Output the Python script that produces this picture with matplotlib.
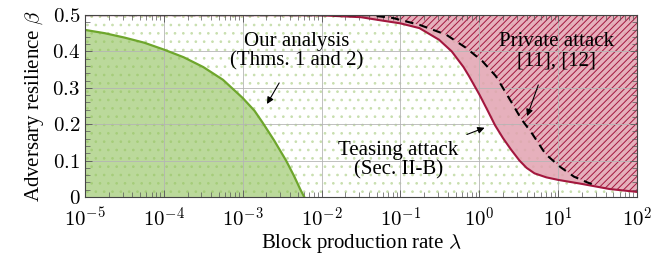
import numpy as np
import matplotlib
matplotlib.use('Agg')
import matplotlib.pyplot as plt
from matplotlib.ticker import LogLocator, MultipleLocator, FixedLocator

plt.rcParams['font.family'] = ['Liberation Serif', 'DejaVu Serif']
plt.rcParams['mathtext.fontset'] = 'cm'
plt.rcParams['hatch.linewidth'] = 0.7

# our analysis (Thms. 1 and 2)
ours_lam = [1e-5, 1.78e-5, 3.16e-5, 5.62e-5, 1e-4, 1.78e-4, 3.16e-4, 5.62e-4, 1e-3,
            1.41e-3, 1.78e-3, 2.51e-3, 3.55e-3, 4.47e-3, 5.4e-3, 6.03e-3]
ours_beta = [0.459, 0.450, 0.438, 0.424, 0.405, 0.384, 0.357, 0.322, 0.272,
             0.237, 0.205, 0.155, 0.100, 0.058, 0.020, 0.0]

# teasing attack (Sec. II-B)
tease_lam = [1e-5, 3.16e-3, 0.01, 0.0316, 0.0537, 0.1, 0.174, 0.309, 0.447, 0.631, 0.741,
             1.0, 1.259, 1.585, 1.995, 2.512, 3.236, 3.981, 5.012, 7.079, 10, 19.95, 44.67, 100]
tease_beta = [0.4998, 0.4995, 0.499, 0.494, 0.486, 0.477, 0.464, 0.432, 0.40, 0.357, 0.332,
              0.282, 0.24, 0.197, 0.162, 0.131, 0.10, 0.08, 0.065, 0.054, 0.047, 0.036, 0.022, 0.014]

# private attack [11], [12]
priv_lam = [1e-5, 0.0398, 0.0794, 0.174, 0.380, 0.676, 1.096, 1.622, 2.188, 2.818, 3.388,
            4.677, 6.918, 10.72, 15.85, 23.44, 31.62]
priv_beta = [0.4998, 0.4995, 0.492, 0.473, 0.446, 0.41, 0.373, 0.332, 0.285, 0.245, 0.215,
             0.174, 0.118, 0.082, 0.056, 0.04, 0.030]

x_ticks = [1e-5, 1e-4, 1e-3, 1e-2, 1e-1, 1e0, 1e1, 1e2]
x_tick_labels = [r'$10^{-5}$', r'$10^{-4}$', r'$10^{-3}$', r'$10^{-2}$', r'$10^{-1}$',
                 r'$10^{0}$', r'$10^{1}$', r'$10^{2}$']
y_ticks = [0, 0.1, 0.2, 0.3, 0.4, 0.5]
y_tick_labels = [r'$0$', r'$0.1$', r'$0.2$', r'$0.3$', r'$0.4$', r'$0.5$']

green = '#6ea62c'
green_fill = '#8fc158'
red = '#a3173e'
pink = '#e2a2b1'

fig = plt.figure(figsize=(6.62, 2.56), dpi=100)
ax = fig.add_axes([85 / 662, 59 / 256, 552 / 662, 182 / 256])
ax.set_xscale('log')
ax.set_xlim(1e-5, 1e2)
ax.set_ylim(0, 0.5)

# dotted background
ax.fill_between([1e-5, 1e2], [0, 0], [0.5, 0.5], facecolor='none', edgecolor='#c8dfae',
                hatch='..', linewidth=0, zorder=0)

# our analysis region
ax.fill_between(ours_lam, 0, ours_beta, color=green_fill, alpha=0.6, linewidth=0, zorder=1)

# teasing attack region
ax.fill_between(tease_lam, tease_beta, 0.5, color=pink, alpha=0.85, linewidth=0, zorder=1)

# private attack region (follows teasing curve after the two meet)
hatch_lam = priv_lam + [l for l in tease_lam if l > priv_lam[-1]]
hatch_beta = priv_beta + [b for l, b in zip(tease_lam, tease_beta) if l > priv_lam[-1]]
ax.fill_between(hatch_lam, hatch_beta, 0.5, facecolor='none', edgecolor=red,
                hatch='/////', linewidth=0, zorder=2)

ax.plot(ours_lam, ours_beta, color=green, lw=1.6, zorder=4)
ax.plot(tease_lam, tease_beta, color=red, lw=1.5, zorder=4)
ax.plot(priv_lam, priv_beta, color='black', lw=1.5, dashes=(4, 3), zorder=4)

ax.xaxis.set_major_locator(FixedLocator(x_ticks))
ax.set_xticklabels(x_tick_labels)
ax.xaxis.set_minor_locator(LogLocator(base=10, subs=np.arange(2, 10), numticks=20))
ax.xaxis.set_minor_formatter(plt.NullFormatter())
ax.set_yticks(y_ticks)
ax.set_yticklabels(y_tick_labels)
ax.yaxis.set_minor_locator(MultipleLocator(0.02))
ax.tick_params(which='both', direction='in', top=True, right=True, labelsize=15,
               color='#555555')
ax.tick_params(which='major', length=5, width=0.6)
ax.tick_params(which='minor', length=3.5, width=0.5)
ax.tick_params(axis='x', pad=8)

ax.grid(True, which='major', color='#b5b5b5', lw=0.6, zorder=3)
ax.set_axisbelow(False)
for s in ax.spines.values():
    s.set_color('#444444')
    s.set_linewidth(0.8)
    s.set_zorder(5)

ax.set_xlabel(r'Block production rate $\lambda$', fontsize=15, labelpad=0)
ax.set_ylabel(r'Adversary resilience $\beta$', fontsize=15, labelpad=4)

ax.text(10 ** -2.32, 0.40, 'Our analysis\n(Thms. 1 and 2)', ha='center', va='center',
        fontsize=15, linespacing=1.0, zorder=6)
ax.annotate('', xy=(10 ** -2.71, 0.249), xytext=(10 ** -2.52, 0.32),
            arrowprops=dict(arrowstyle='-|>', color='black', lw=0.8, mutation_scale=10), zorder=6)

ax.text(10 ** -1.03, 0.10, 'Teasing attack\n(Sec. II-B)', ha='center', va='center',
        fontsize=15, linespacing=1.0, zorder=6)
ax.annotate('', xy=(10 ** 0.10, 0.193), xytext=(10 ** -0.19, 0.169),
            arrowprops=dict(arrowstyle='-|>', color='black', lw=0.8, mutation_scale=10), zorder=6)

ax.text(10 ** 0.975, 0.40, 'Private attack\n[11], [12]', ha='center', va='center',
        fontsize=15, linespacing=1.0, zorder=6)
ax.annotate('', xy=(10 ** 0.595, 0.215), xytext=(10 ** 0.76, 0.315),
            arrowprops=dict(arrowstyle='-|>', color='black', lw=0.8, mutation_scale=10), zorder=6)

fig.savefig('out.png', dpi=100)
